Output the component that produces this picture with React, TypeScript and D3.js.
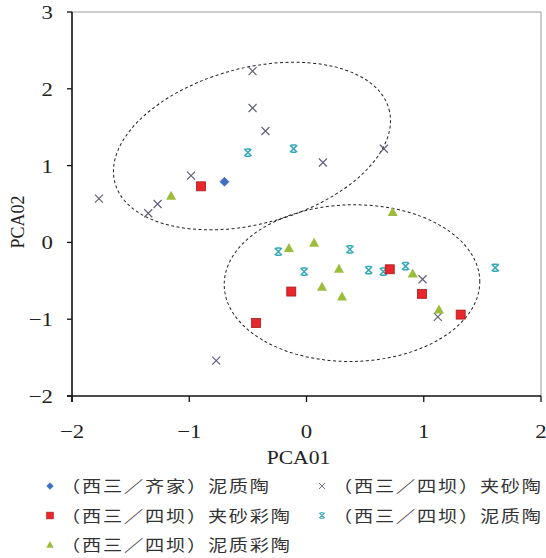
import React from 'react';
import * as d3 from 'd3';

// PCA scores
const qijiaNizhi: [number, number][] = [[-0.70, 0.79]];
const sibaJiasha: [number, number][] = [
  [-1.77, 0.57], [-1.35, 0.38], [-1.27, 0.50], [-0.985, 0.87],
  [-0.46, 2.23], [-0.46, 1.75], [-0.35, 1.45], [0.14, 1.04],
  [0.66, 1.22], [-0.77, -1.54], [0.99, -0.48], [1.12, -0.97]
];
const sibaJiashaCai: [number, number][] = [
  [-0.90, 0.73], [0.71, -0.35], [-0.13, -0.64], [-0.43, -1.05],
  [0.985, -0.67], [1.315, -0.94]
];
const sibaNizhi: [number, number][] = [
  [-0.50, 1.17], [-0.11, 1.22], [-0.24, -0.12], [-0.02, -0.38],
  [0.37, -0.09], [0.53, -0.36], [0.655, -0.38], [0.845, -0.31], [1.61, -0.33]
];
const sibaNizhiCai: [number, number][] = [
  [-1.155, 0.60], [0.735, 0.39], [-0.15, -0.08], [0.065, -0.01],
  [0.277, -0.35], [0.132, -0.585], [0.303, -0.71], [0.906, -0.41], [1.13, -0.88]
];

// group ellipses: centre x, centre y, radius x, radius y (data units), tilt in degrees
const groupEllipses = [
  { cx: -0.465, cy: 1.255, rx: 1.21, ry: 1.015, tilt: -15 },
  { cx: 0.388, cy: -0.53, rx: 1.09, ry: 1.02, tilt: -1 }
];

const xTicks = [-2, -1, 0, 1, 2];
const yTicks = [-2, -1, 0, 1, 2, 3];

const legendLabels = [
  '（西三／齐家）泥质陶',
  '（西三／四坝）夹砂陶',
  '（西三／四坝）夹砂彩陶',
  '（西三／四坝）泥质陶',
  '（西三／四坝）泥质彩陶'
];

const W = 546;
const H = 558;
const margin = { top: 12, right: 5, bottom: 162, left: 72 };

const x = d3.scaleLinear().domain([-2, 2]).range([margin.left, W - margin.right]);
const y = d3.scaleLinear().domain([-2, 3]).range([H - margin.bottom, margin.top]);

const fmt = (v: number) => (v < 0 ? '\u2212' + Math.abs(v) : String(v));

type Kind = 'diamond' | 'cross' | 'square' | 'star' | 'triangle';

function Marker({ kind, cx, cy, s = 1 }: { kind: Kind; cx: number; cy: number; s?: number }) {
  const t = `translate(${cx},${cy}) scale(${s})`;
  if (kind === 'diamond') {
    return <path transform={t} d="M0,-4.5L4.5,0L0,4.5L-4.5,0Z" fill="#3d6fc4" stroke="#2f5aa6" strokeWidth={0.6} />;
  }
  if (kind === 'square') {
    return <rect transform={t} x={-4.5} y={-4.5} width={9} height={9} fill="#e8262c" stroke="#a81a1e" strokeWidth={0.8} />;
  }
  if (kind === 'triangle') {
    return <path transform={t} d="M0,-5.5L5,3.5L-5,3.5Z" fill="#9cbc3c" />;
  }
  if (kind === 'cross') {
    return <path transform={t} d="M-4,-4L4,4M4,-4L-4,4" stroke="#60607a" strokeWidth={1.2} fill="none" />;
  }
  return (
    <path transform={t} d="M-3.6,-3.6L3.6,3.6M3.6,-3.6L-3.6,3.6M-2.4,-3.6L2.4,-3.6M-2.4,3.6L2.4,3.6"
      stroke="#37a9b6" strokeWidth={1.5} fill="none" />
  );
}

const series: { data: [number, number][]; kind: Kind }[] = [
  { data: sibaJiasha, kind: 'cross' },
  { data: sibaNizhi, kind: 'star' },
  { data: sibaNizhiCai, kind: 'triangle' },
  { data: sibaJiashaCai, kind: 'square' },
  { data: qijiaNizhi, kind: 'diamond' }
];

const legendKinds: Kind[] = ['diamond', 'cross', 'square', 'star', 'triangle'];

export default function App() {
  const left = x(-2);
  const right = x(2);
  const top = y(3);
  const bottom = y(-2);
  const serif = '"Liberation Serif", "DejaVu Serif", serif';
  const cjk = '"Noto Sans CJK SC", sans-serif';

  return (
    <svg width={W} height={H} style={{ position: 'absolute', left: 0, top: 0, background: '#fff' }}>
      {/* frame */}
      <line x1={left} x2={right} y1={top} y2={top} stroke="#9a9a9a" />
      <line x1={right} x2={right} y1={top} y2={bottom} stroke="#9a9a9a" />

      {/* ellipses */}
      {groupEllipses.map((e, i) => {
        const px = x(e.cx);
        const py = y(e.cy);
        return (
          <ellipse key={i} cx={0} cy={0}
            rx={x(e.cx + e.rx) - px} ry={py - y(e.cy + e.ry)}
            transform={`translate(${px},${py}) rotate(${e.tilt})`}
            fill="none" stroke="#222" strokeWidth={1} strokeDasharray="3 2.5" />
        );
      })}

      {/* points */}
      {series.map((s, i) => (
        <g key={i}>
          {s.data.map((d, j) => <Marker key={j} kind={s.kind} cx={x(d[0])} cy={y(d[1])} />)}
        </g>
      ))}

      {/* axes */}
      <line x1={left} x2={left} y1={top} y2={bottom + 6} stroke="#111" strokeWidth={1.6} />
      <line x1={left - 5} x2={right} y1={bottom} y2={bottom} stroke="#111" strokeWidth={1.6} />
      {yTicks.map(t => (
        <g key={t}>
          <line x1={left - 5} x2={left} y1={y(t)} y2={y(t)} stroke="#111" strokeWidth={1.3} />
          <text transform={`translate(${left - 19},${y(t) + 7}) scale(1.2,1)`} textAnchor="end"
            fontFamily={serif} fontSize={19} fill="#222">{fmt(t)}</text>
        </g>
      ))}
      {xTicks.map(t => (
        <g key={t}>
          <line x1={x(t)} x2={x(t)} y1={bottom} y2={bottom + 6} stroke="#111" strokeWidth={1.3} />
          <text transform={`translate(${x(t)},${bottom + 42}) scale(1.2,1)`} textAnchor="middle"
            fontFamily={serif} fontSize={19} fill="#222">{fmt(t)}</text>
        </g>
      ))}
      <text transform={`translate(${(left + right) / 2 - 8},${bottom + 68}) scale(1.2,1)`} textAnchor="middle"
        fontFamily={serif} fontSize={18} fill="#222">PCA01</text>
      <text transform={`translate(24,${(top + bottom) / 2 + 18}) rotate(-90)`} textAnchor="middle"
        fontFamily={serif} fontSize={18} fill="#222">PCA02</text>

      {/* legend */}
      {legendLabels.map((lab, i) => {
        const col = i % 2;
        const row = Math.floor(i / 2);
        const mx = col === 0 ? 50 : 322;
        const my = 486 + row * 29.5;
        return (
          <g key={i}>
            <Marker kind={legendKinds[i]} cx={mx} cy={my} s={0.75} />
            <text transform={`translate(${mx + 11},${my + 6}) scale(1.2,1)`}
              fontFamily={cjk} fontSize={16} letterSpacing={1.5} fill="#333">{lab}</text>
          </g>
        );
      })}
    </svg>
  );
}
